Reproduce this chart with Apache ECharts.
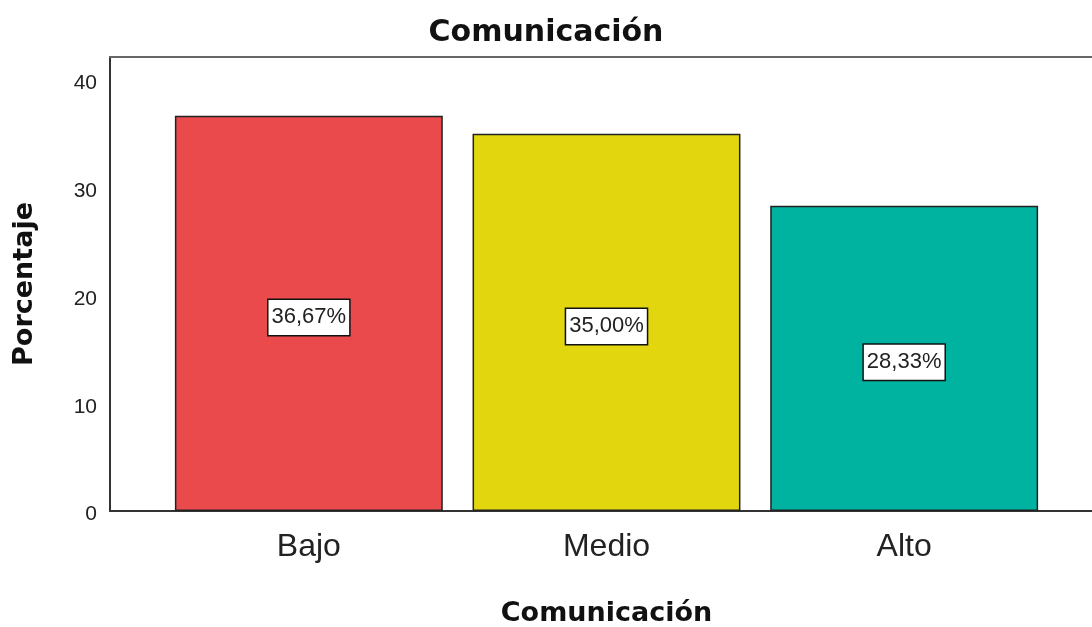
<!DOCTYPE html>
<html>
<head>
<meta charset="utf-8">
<script src="https://cdn.jsdelivr.net/npm/echarts@6/dist/echarts.min.js"></script>
<style>html,body{margin:0;padding:0;background:#fff}#c{width:1092px;height:627px}</style>
</head>
<body>
<div id="c"></div>
<script>
const categories = ['Bajo', 'Medio', 'Alto'];
const values = [36.67, 35.00, 28.33];
const colors = ['#EA4A4C', '#E2D70F', '#00B2A0'];
const yTicks = [0, 10, 20, 30, 40];
const titleText = 'Comunicación';
const xName = 'Comunicación';
const yName = 'Porcentaje';

const yMax = 42.13;
const chart = echarts.init(document.getElementById('c'));
chart.setOption({
  backgroundColor: '#fff',
  animation: false,
  title: {
    text: titleText, left: 'center', top: 13,
    textStyle: { fontFamily: 'DejaVu Sans', fontWeight: 'bold', fontSize: 30, color: '#111' }
  },
  grid: [
    { left: 160, right: 39, top: 57, bottom: 116, containLabel: false, outerBoundsMode: 'none' },
    { left: 110, right: -20, top: 57, bottom: 116, containLabel: false, outerBoundsMode: 'none' }
  ],
  xAxis: [
    {
      type: 'category', gridIndex: 0, data: categories,
      axisLine: { show: false }, axisTick: { show: false },
      axisLabel: { fontFamily: 'Liberation Sans', fontSize: 32, color: '#222', margin: 20 },
      name: xName, nameLocation: 'middle', nameGap: 89,
      nameTextStyle: { fontFamily: 'DejaVu Sans', fontWeight: 'bold', fontSize: 27, color: '#111' }
    },
    {
      type: 'value', gridIndex: 1, min: 0, max: 1, position: 'bottom',
      axisLine: { show: true, lineStyle: { color: '#333', width: 2 } },
      axisTick: { show: false }, axisLabel: { show: false }, splitLine: { show: false }
    },
    {
      type: 'value', gridIndex: 1, min: 0, max: 1, position: 'top',
      axisLine: { show: true, lineStyle: { color: '#666', width: 2 } },
      axisTick: { show: false }, axisLabel: { show: false }, splitLine: { show: false }
    }
  ],
  yAxis: [
    { type: 'value', gridIndex: 0, min: 0, max: yMax, show: false, splitLine: { show: false } },
    {
      type: 'value', gridIndex: 1, min: 0, max: yMax, interval: 10,
      axisLine: { show: true, lineStyle: { color: '#333', width: 2 } },
      axisTick: { show: false }, splitLine: { show: false },
      axisLabel: {
        fontFamily: 'Liberation Sans', fontSize: 21, color: '#222', margin: 13,
        verticalAlign: 'top', lineHeight: 7,
        formatter: v => yTicks.indexOf(v) >= 0 ? String(v) : ''
      },
      name: yName, nameLocation: 'middle', nameGap: 72, nameRotate: 90,
      nameTextStyle: { fontFamily: 'DejaVu Sans', fontWeight: 'bold', fontSize: 27, color: '#111' }
    }
  ],
  series: [{
    type: 'bar', xAxisIndex: 0, yAxisIndex: 0,
    barCategoryGap: '10%',
    data: values.map((v, i) => ({ value: v, itemStyle: { color: colors[i] } })),
    itemStyle: { borderColor: '#222', borderWidth: 1.5 },
    label: {
      show: true, position: 'inside', offset: [0, 4],
      formatter: p => p.value.toFixed(2).replace('.', ',') + '%',
      fontFamily: 'Liberation Sans', fontSize: 22, color: '#222',
      backgroundColor: '#fff', borderColor: '#111', borderWidth: 1.5,
      padding: [7, 3, 6, 3]
    }
  }]
});
</script>
</body>
</html>
